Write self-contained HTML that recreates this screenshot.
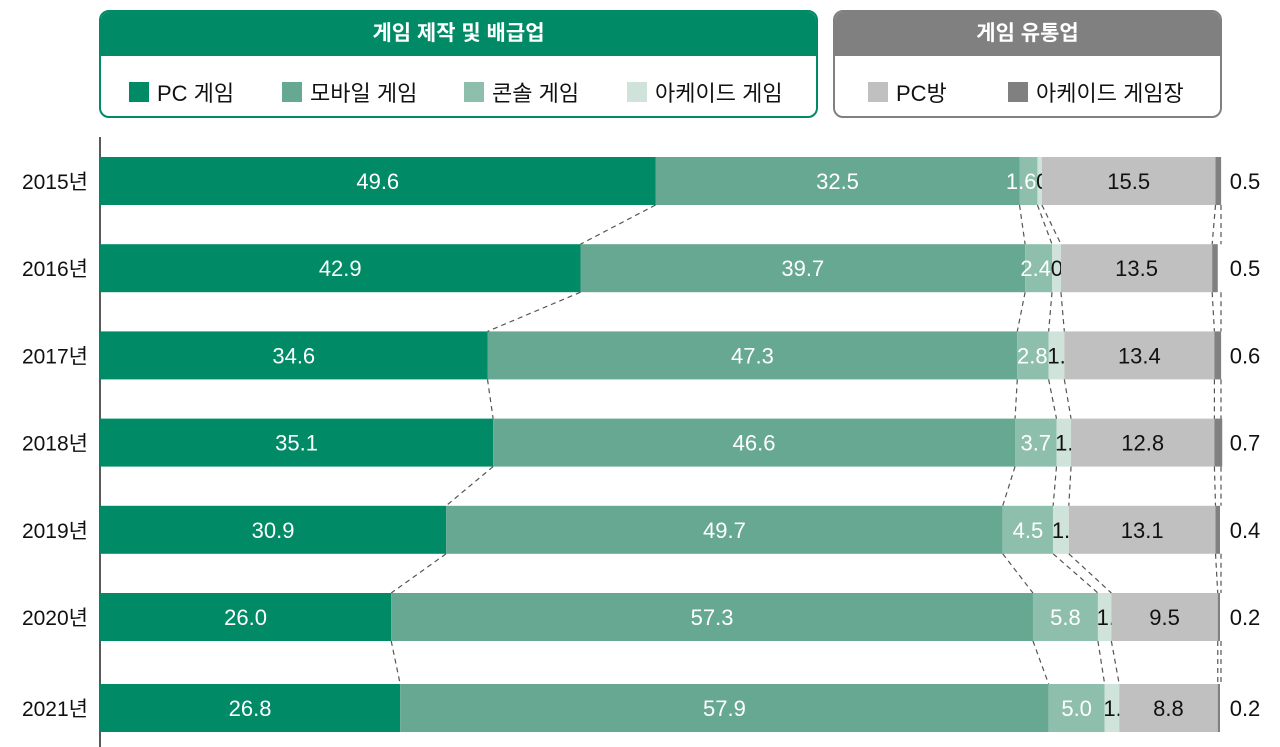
<!DOCTYPE html>
<html><head><meta charset="utf-8">
<style>
body{margin:0;background:#fff;font-family:"Liberation Sans","Noto Sans CJK KR",sans-serif;}
#wrap{position:relative;width:1280px;height:747px;overflow:hidden;}
.box{position:absolute;border:2px solid;border-radius:10px;box-sizing:border-box;overflow:hidden;}
.hdr{height:44px;line-height:44px;text-align:center;color:#fff;font-weight:bold;font-size:21px;}
.leg{position:absolute;top:76px;font-size:22px;color:#111;display:flex;align-items:center;}
.sw{width:20px;height:20px;margin-right:8px;display:inline-block;}
</style></head><body>
<div id="wrap">
<div class="box" style="left:99px;top:10px;width:719px;height:108px;border-color:#008a65">
<div class="hdr" style="background:#008a65">게임 제작 및 배급업</div>
</div>
<div class="box" style="left:833px;top:10px;width:389px;height:108px;border-color:#808080">
<div class="hdr" style="background:#808080">게임 유통업</div>
</div>
<div class="leg" style="left:129px"><span class="sw" style="background:#008a65"></span>PC 게임</div>
<div class="leg" style="left:282px"><span class="sw" style="background:#66a891"></span>모바일 게임</div>
<div class="leg" style="left:464px"><span class="sw" style="background:#8dbfac"></span>콘솔 게임</div>
<div class="leg" style="left:627px"><span class="sw" style="background:#cfe3da"></span>아케이드 게임</div>
<div class="leg" style="left:868px"><span class="sw" style="background:#c0c0c0"></span>PC방</div>
<div class="leg" style="left:1008px"><span class="sw" style="background:#808080"></span>아케이드 게임장</div>
<svg id="svg" width="1280" height="747" style="position:absolute;left:0;top:0"></svg>
</div>
<script>
const years=["2015년","2016년","2017년","2018년","2019년","2020년","2021년"];
const pcGame=[49.6,42.9,34.6,35.1,30.9,26.0,26.8];
const mobileGame=[32.5,39.7,47.3,46.6,49.7,57.3,57.9];
const consoleGame=[1.6,2.4,2.8,3.7,4.5,5.8,5.0];
const arcadeGame=[0.4,0.8,1.4,1.3,1.4,1.2,1.3];
const pcBang=[15.5,13.5,13.4,12.8,13.1,9.5,8.8];
const arcadeHall=[0.5,0.5,0.6,0.7,0.4,0.2,0.2];
const series=[pcGame,mobileGame,consoleGame,arcadeGame,pcBang,arcadeHall];
const names=["pc-game","mobile-game","console-game","arcade-game","pc-bang","arcade-hall"];
const colors=["#008a65","#66a891","#8dbfac","#cfe3da","#c0c0c0","#808080"];
const textCol=["#fff","#fff","#fff","#111","#111","#111"];
const NS="http://www.w3.org/2000/svg";
const svg=document.getElementById('svg');
const x=v=>100+v*11.2;
const yTop=i=>i<6?157+i*87.2:684;
const BH=48;
function mk(t,a){const e=document.createElementNS(NS,t);for(const k in a)e.setAttribute(k,a[k]);svg.appendChild(e);return e;}
const ax=mk('line',{x1:100,y1:137,x2:100,y2:747,stroke:'#222','stroke-width':1.5});


const cums=[];
years.forEach((yr,i)=>{
  const t=yTop(i);let c=0;const cb=[];
  const yl=mk('text',{x:88,y:t+BH/2+8,'text-anchor':'end','font-size':21,fill:'#111'});
  yl.textContent=yr;
  
  
  series.forEach((s,k)=>{
    const v=s[i];const x0=x(c);c+=v;const x1=x(c);cb.push(c);
    const r=mk('rect',{x:x0,y:t,width:Math.max(x1-x0,0.5),height:BH,fill:colors[k]});
    
    
    let lx,anc='middle';const w=x1-x0;
    if(k===5){lx=1245;}
    else if(k===2&&w<40){lx=x1-1;anc='end';}
    else if(k===3){lx=Math.max((x0+x1)/2,x0+14);}
    else lx=(x0+x1)/2;
    const tx=mk('text',{x:lx,y:t+BH/2+8,'text-anchor':anc,'font-size':22,fill:textCol[k]});
    tx.textContent=v.toFixed(1);
    
    
  });
  cums.push(cb);
});
for(let i=0;i<years.length-1;i++){
  for(let k=0;k<series.length-1;k++){
    const l=mk('line',{x1:x(cums[i][k]),y1:yTop(i)+BH,x2:x(cums[i+1][k]),y2:yTop(i+1),stroke:'#555','stroke-width':1.2,'stroke-dasharray':'5 4'});
    
    
  }
  const l=mk('line',{x1:x(100)+1,y1:yTop(i)+BH,x2:x(100)+1,y2:yTop(i+1),stroke:'#555','stroke-width':1.2,'stroke-dasharray':'5 4'});
  
  
}
</script>
</body></html>
